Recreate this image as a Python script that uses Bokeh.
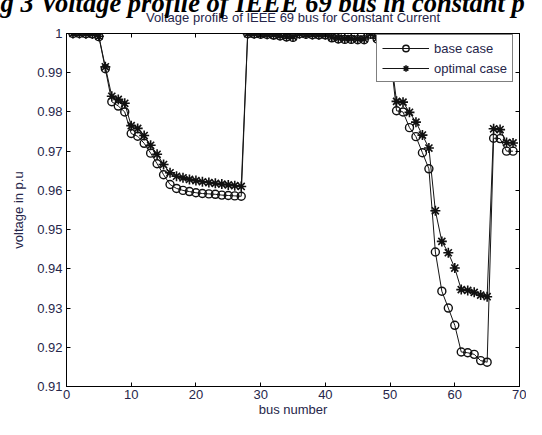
from bokeh.plotting import figure
from bokeh.models import (LinearAxis, FixedTicker, CustomJSTickFormatter, Legend,
                          LegendItem, Range1d)
from bokeh.embed import file_html
from bokeh.resources import INLINE

bus = list(range(1, 70))

base_case = [
    1.0000, 1.0000, 0.99995, 0.9999, 0.9992, 0.9910, 0.9826, 0.9815, 0.9800, 0.9745,
    0.9738, 0.9720, 0.9695, 0.9668, 0.9640, 0.9615, 0.9605, 0.9600, 0.9597, 0.9594,
    0.9592, 0.9591, 0.9590, 0.9588, 0.9587, 0.9586, 0.9585,
    0.99995, 0.9999, 0.9998, 0.99975, 0.9996, 0.9994, 0.9991, 0.9990,
    0.99993, 0.9998, 0.9997, 0.99965, 0.99965, 0.9989, 0.9986, 0.9985, 0.9985, 0.9984, 0.9984,
    0.9998, 0.9986, 0.9955, 0.9950,
    0.9803, 0.9800, 0.9760, 0.9737, 0.9696, 0.9655, 0.9443, 0.9343, 0.9300, 0.9256,
    0.9188, 0.9186, 0.9182, 0.9166, 0.9162,
    0.9733, 0.9732, 0.9700, 0.9700,
]

optimal_case = [
    1.0000, 1.0000, 0.99995, 0.9999, 0.9993, 0.9915, 0.9840, 0.9832, 0.9822, 0.9765,
    0.9758, 0.9740, 0.9715, 0.9692, 0.9666, 0.9645, 0.9636, 0.9632, 0.9628, 0.9625,
    0.9622, 0.9620, 0.9618, 0.9616, 0.9614, 0.9612, 0.9610,
    0.99996, 0.99992, 0.99985, 0.9998, 0.9997, 0.9995, 0.9993, 0.9992,
    0.99994, 0.99985, 0.99975, 0.9997, 0.9997, 0.9991, 0.9988, 0.9987, 0.9987, 0.9986, 0.9986,
    0.9999, 0.9988, 0.9962, 0.9958,
    0.9827, 0.9825, 0.9799, 0.9774, 0.9741, 0.9708, 0.9548, 0.9470, 0.9441, 0.9402,
    0.9347, 0.9345, 0.9340, 0.9333, 0.9329,
    0.9757, 0.9755, 0.9722, 0.9721,
]

x_ticks = [0, 10, 20, 30, 40, 50, 60, 70]
y_ticks = [0.91, 0.92, 0.93, 0.94, 0.95, 0.96, 0.97, 0.98, 0.99, 1.0]

title_text = "Voltage profile of IEEE 69 bus for Constant Current"
caption_text = "g 3 Voltage profile of IEEE 69 bus in constant p"
x_label = "bus number"
y_label = "voltage in p.u"
series_names = ["base case", "optimal case"]

FONT = "Liberation Sans"
TXT = "#26264a"

p = figure(width=526, height=419, output_backend="svg", toolbar_location=None,
           title=caption_text,
           x_range=Range1d(0, 70), y_range=Range1d(0.91, 1.0),
           min_border_left=66, min_border_right=7, min_border_top=33,
           min_border_bottom=30, background_fill_color="white",
           border_fill_color="white")
p.xgrid.visible = False
p.ygrid.visible = False
p.outline_line_color = "black"
p.outline_line_width = 1

# cut-off caption strip at the very top (as in the reference crop)
p.title.text_font = "Liberation Serif"
p.title.text_font_size = "26.5px"
p.title.text_font_style = "bold italic"
p.title.text_color = "black"
p.title.align = "left"
p.title.offset = -66
p.title.vertical_align = "top"
p.title.standoff = -27

bottom_axis = p.below[0]
left_axis = p.left[0]
top_axis = LinearAxis()
right_axis = LinearAxis()
p.add_layout(top_axis, "above")
p.add_layout(right_axis, "right")

empty_fmt = CustomJSTickFormatter(code="return '';")
yfmt = CustomJSTickFormatter(code="return tick > 0.9999 ? '1' : tick.toFixed(2);")

for ax in [bottom_axis, top_axis]:
    ax.ticker = FixedTicker(ticks=x_ticks, minor_ticks=[])
for ax in [left_axis, right_axis]:
    ax.ticker = FixedTicker(ticks=y_ticks, minor_ticks=[])

for ax in [bottom_axis, left_axis, top_axis, right_axis]:
    ax.major_tick_in = 4
    ax.major_tick_out = 0
    ax.minor_tick_in = 0
    ax.minor_tick_out = 0
    ax.axis_line_color = "black"
    ax.major_tick_line_color = "black"
    ax.major_label_text_font = FONT
    ax.major_label_text_font_size = "13px"
    ax.major_label_text_color = TXT

for ax in [top_axis, right_axis]:
    ax.formatter = empty_fmt
    ax.major_label_standoff = 0
    ax.axis_label_standoff = 0
    ax.major_label_text_font_size = "1px"

left_axis.formatter = yfmt
left_axis.major_label_standoff = 4
bottom_axis.major_label_standoff = 3

bottom_axis.axis_label = x_label
left_axis.axis_label = y_label
top_axis.axis_label = title_text
for ax in [bottom_axis, left_axis, top_axis]:
    ax.axis_label_text_font = FONT
    ax.axis_label_text_font_size = "13px"
    ax.axis_label_text_font_style = "normal"
    ax.axis_label_text_color = TXT
bottom_axis.axis_label_standoff = 0
left_axis.axis_label_standoff = 8
top_axis.axis_label_standoff = 9

line_kw = dict(line_color="#151515", line_width=1)
l1 = p.line(bus, base_case, **line_kw)
m1 = p.scatter(bus, base_case, marker="circle", size=8, line_color="#111111",
               line_width=1.4, fill_color=None)
l2 = p.line(bus, optimal_case, **line_kw)
m2 = p.scatter(bus, optimal_case, marker="asterisk", size=10, line_color="#111111",
               line_width=1.6)

legend = Legend(items=[LegendItem(label=series_names[0], renderers=[l1, m1]),
                       LegendItem(label=series_names[1], renderers=[l2, m2])],
                location=(310, 304), padding=5, spacing=4, label_height=16,
                glyph_height=16, glyph_width=47, label_standoff=5,
                label_text_font=FONT, label_text_font_size="13px",
                label_text_color=TXT, border_line_color="black",
                border_line_width=1, background_fill_alpha=1, margin=0)
p.add_layout(legend, "center")

open("out.html", "w").write(file_html(p, INLINE))
